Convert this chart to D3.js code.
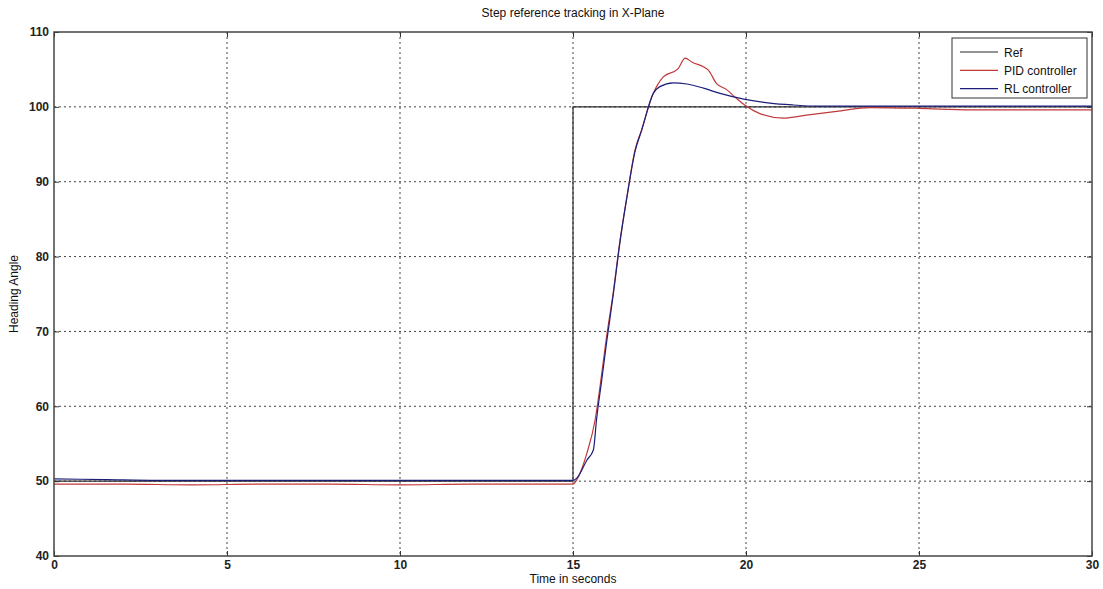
<!DOCTYPE html>
<html><head><meta charset="utf-8">
<script src="https://cdn.jsdelivr.net/npm/d3@7"></script>
<style>body{margin:0;background:#fff}svg{display:block}text{font-family:Arial,"Liberation Sans",sans-serif}</style>
</head><body>
<svg id="c" width="1103" height="589"></svg>
<script>
const xTicks = [0,5,10,15,20,25,30];
const yTicks = [40,50,60,70,80,90,100,110];
const refT = [0,15,15,30];
const refV = [50,50,100,100];
const pidT = [0,2,4,6,8,10,12,14,15.0,15.11,15.4,15.64,15.78,15.97,16.16,16.36,16.56,16.79,16.98,17.32,17.61,18.04,18.24,18.43,18.91,19.15,19.44,19.73,19.97,20.4,21.08,21.75,22.62,23.58,25,26.5,28,30];
const pidV = [49.6,49.6,49.5,49.6,49.6,49.5,49.6,49.6,49.6,50.2,53.7,58.2,62.6,69.3,75.1,82.2,88.0,94.2,96.9,101.8,104.0,105.1,106.5,106.0,104.9,103.1,102.3,101.1,100.2,99.1,98.5,98.9,99.4,99.9,99.8,99.6,99.6,99.6];
const rlT = [0,1.5,3,6,9,12,14.5,15.0,15.11,15.4,15.59,15.68,15.83,15.97,16.16,16.36,16.56,16.79,16.98,17.32,17.51,17.9,18.29,18.77,19.25,19.97,20.69,21.37,22.05,24,26,28,30];
const rlV = [50.3,50.2,50.1,50.1,50.1,50.1,50.1,50.1,50.4,52.8,54.2,58.2,63.5,68.5,74.8,82.0,88.0,94.0,96.8,101.8,102.7,103.2,103.05,102.5,101.8,101.0,100.5,100.25,100.1,100.1,100.1,100.1,100.1];
const legendNames = ["Ref","PID controller","RL controller"];
const colors = ["#2a2a2a","#c0393b","#1c1f7a"];

const svg = d3.select("#c");
const L=54,R=1092,T=32,B=556;
const x = d3.scaleLinear().domain([0,30]).range([L,R]);
const y = d3.scaleLinear().domain([40,110]).range([B,T]);

// grid
const g = svg.append("g");
g.selectAll("line.gx").data(xTicks.slice(1,-1)).join("line")
 .attr("x1",d=>x(d)).attr("x2",d=>x(d)).attr("y1",T).attr("y2",B)
 .attr("stroke","#444").attr("stroke-dasharray","2,3").attr("stroke-width",1);
g.selectAll("line.gy").data(yTicks.slice(1,-1)).join("line")
 .attr("y1",d=>y(d)).attr("y2",d=>y(d)).attr("x1",L).attr("x2",R)
 .attr("stroke","#444").attr("stroke-dasharray","2,3").attr("stroke-width",1);

// axes
const ax = d3.axisBottom(x).tickValues(xTicks).tickSize(-5).tickPadding(4).tickFormat(d3.format("d"));
const ay = d3.axisLeft(y).tickValues(yTicks).tickSize(-5).tickPadding(5).tickFormat(d3.format("d"));
const axT = d3.axisTop(x).tickValues(xTicks).tickSize(-5).tickFormat("");
const ayR = d3.axisRight(y).tickValues(yTicks).tickSize(-5).tickFormat("");
function style(sel){sel.select(".domain").remove();sel.selectAll("line").attr("stroke","#333");
 sel.selectAll("text").attr("fill","#222").attr("font-size",12).attr("font-weight","bold").style("font-family","Arial,'Liberation Sans',sans-serif");}
svg.append("g").attr("transform",`translate(0,${B})`).call(ax).call(style);
svg.append("g").attr("transform",`translate(${L},0)`).call(ay).call(style);
svg.append("g").attr("transform",`translate(0,${T})`).call(axT).call(style);
svg.append("g").attr("transform",`translate(${R},0)`).call(ayR).call(style);

// lines
const lineRef = d3.line().x(d=>x(d[0])).y(d=>y(d[1]));
const lineSmooth = d3.line().x(d=>x(d[0])).y(d=>y(d[1])).curve(d3.curveMonotoneX);
const series = [d3.zip(refT,refV), d3.zip(pidT,pidV), d3.zip(rlT,rlV)];
series.forEach((s,i)=>{
 svg.append("path").datum(s).attr("d",i===0?lineRef:lineSmooth).attr("fill","none").attr("stroke",colors[i]).attr("stroke-width",1.2);
});

// box
svg.append("rect").attr("x",L).attr("y",T).attr("width",R-L).attr("height",B-T)
 .attr("fill","none").attr("stroke","#444").attr("stroke-width",1.5);

// title & labels
svg.append("text").attr("x",(L+R)/2).attr("y",17).attr("text-anchor","middle").attr("font-size",12).attr("fill","#111").text("Step reference tracking in X-Plane");
svg.append("text").attr("x",(L+R)/2).attr("y",583).attr("text-anchor","middle").attr("font-size",12).attr("fill","#111").text("Time in seconds");
svg.append("text").attr("transform",`translate(18,${(T+B)/2}) rotate(-90)`).attr("text-anchor","middle").attr("font-size",12).attr("fill","#111").text("Heading Angle");

// legend
const lg = svg.append("g");
lg.append("rect").attr("x",952).attr("y",38).attr("width",135).attr("height",60).attr("fill","#fff").attr("stroke","#333").attr("stroke-width",1);
legendNames.forEach((n,i)=>{
 const yy = 52 + i*18.3;
 lg.append("line").attr("x1",960).attr("x2",998).attr("y1",yy).attr("y2",yy).attr("stroke",colors[i]).attr("stroke-width",1.2);
 lg.append("text").attr("x",1004).attr("y",yy+4.5).attr("font-size",12).attr("fill","#111").text(n);
});
</script>
</body></html>
